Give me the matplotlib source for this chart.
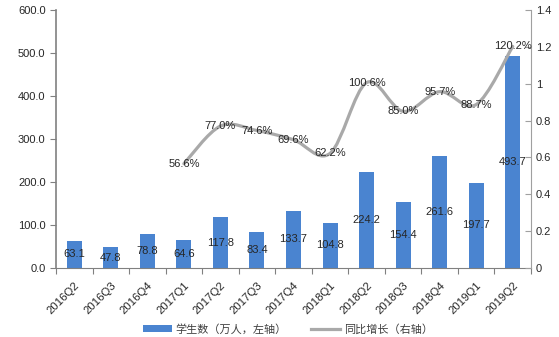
import numpy as np
import matplotlib
matplotlib.use("Agg")
from matplotlib import pyplot as plt
from matplotlib.path import Path
from matplotlib.patches import PathPatch, Patch
from matplotlib.lines import Line2D

plt.rcParams['font.family'] = ['Liberation Sans', 'Noto Sans CJK SC']
plt.rcParams['font.size'] = 8

# data
quarters = ['2016Q2', '2016Q3', '2016Q4', '2017Q1', '2017Q2', '2017Q3', '2017Q4',
            '2018Q1', '2018Q2', '2018Q3', '2018Q4', '2019Q1', '2019Q2']
students = [63.1, 47.8, 78.8, 64.6, 117.8, 83.4, 133.7, 104.8, 224.2, 154.4, 261.6, 197.7, 493.7]
growth_start = 3  # growth series starts at 2017Q1
growth = [0.566, 0.770, 0.746, 0.696, 0.622, 1.006, 0.850, 0.957, 0.887, 1.202]
growth_labels = ['56.6%', '77.0%', '74.6%', '69.6%', '62.2%', '100.6%', '85.0%', '95.7%', '88.7%', '120.2%']

left_ticks = [0, 100, 200, 300, 400, 500, 600]
right_ticks = [0, 0.2, 0.4, 0.6, 0.8, 1.0, 1.2, 1.4]
right_tick_labels = ['0', '0.2', '0.4', '0.6', '0.8', '1', '1.2', '1.4']

BAR_COLOR = '#4a84d0'
LINE_COLOR = '#a9a9a9'
TEXT_COLOR = '#262626'


def smooth_path(xs, ys):
    '''Catmull-Rom style smoothed path through the points, as bezier curves.'''
    pts = np.column_stack([xs, ys]).astype(float)
    n = len(pts)
    verts = [pts[0]]
    codes = [Path.MOVETO]
    for i in range(n - 1):
        p0 = pts[i - 1] if i > 0 else pts[i]
        p1 = pts[i]
        p2 = pts[i + 1]
        p3 = pts[i + 2] if i + 2 < n else pts[i + 1]
        c1 = p1 + (p2 - p0) / 6.0
        c2 = p2 - (p3 - p1) / 6.0
        verts += [c1, c2, p2]
        codes += [Path.CURVE4] * 3
    return Path(verts, codes)


fig = plt.figure(figsize=(5.59, 3.37), dpi=100)
ax = fig.add_axes([56 / 559, 1 - 268 / 337, 475 / 559, 258 / 337])
x = np.arange(len(quarters))

ax.bar(x, students, width=0.41, color=BAR_COLOR, zorder=2)
for xi, v in zip(x, students):
    ax.text(xi, v / 2, '%.1f' % v, ha='center', va='center', color=TEXT_COLOR, zorder=5)

ax.set_xlim(-0.5, len(quarters) - 0.5)
ax.set_ylim(0, 600)
ax.set_yticks(left_ticks)
ax.set_yticklabels(['%.1f' % t for t in left_ticks])
ax.set_xticks(np.arange(-0.5, len(quarters)), minor=False)
ax.set_xticklabels([])
ax.set_xticks(x, minor=True)
ax.set_xticklabels(quarters, minor=True, rotation=45, ha='right', va='top',
                   rotation_mode='anchor')
ax.tick_params(axis='x', which='major', length=4, color='#808080', direction='out')
ax.tick_params(axis='x', which='minor', length=0, pad=9, labelsize=8.2, labelcolor=TEXT_COLOR)
ax.tick_params(axis='y', length=4, color='#808080', direction='out', labelcolor=TEXT_COLOR)
for s in ['top', 'right']:
    ax.spines[s].set_visible(False)
ax.spines['left'].set_color('#808080')
ax.spines['bottom'].set_color('#808080')
ax.spines['left'].set_linewidth(1.2)

ax2 = ax.twinx()
ax2.set_ylim(0, 1.4)
ax2.set_yticks(right_ticks)
ax2.set_yticklabels(right_tick_labels)
ax2.tick_params(axis='y', length=4, color='#a0a0a0', direction='in', labelcolor=TEXT_COLOR)
for s in ['top', 'left', 'bottom']:
    ax2.spines[s].set_visible(False)
ax2.spines['right'].set_color('#a0a0a0')

gx = x[growth_start:]
path = smooth_path(gx, growth)
ax2.add_patch(PathPatch(path, facecolor='none', edgecolor=LINE_COLOR, lw=2.3,
                        capstyle='round', joinstyle='round', zorder=3))
for xi, v, lab in zip(gx, growth, growth_labels):
    ax2.text(xi, v, lab, ha='center', va='center', color=TEXT_COLOR, zorder=5)

handles = [Patch(facecolor=BAR_COLOR, edgecolor='none'),
           Line2D([], [], color=LINE_COLOR, lw=2.3)]
fig.legend(handles, ['学生数（万人，左轴）', '同比增长（右轴）'], loc='center',
           bbox_to_anchor=(288 / 559, 1 - 329 / 337), ncol=2, frameon=False,
           handlelength=2.6, columnspacing=2.2, handletextpad=0.3,
           labelcolor='#404040', fontsize=8)

fig.savefig('out.png', dpi=100)
